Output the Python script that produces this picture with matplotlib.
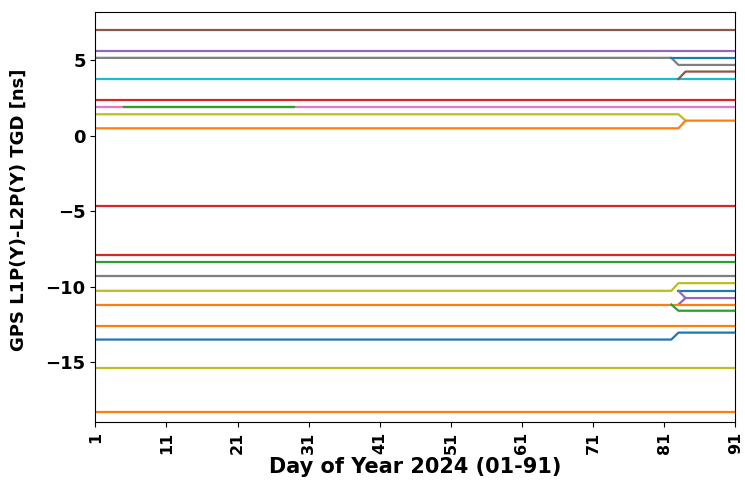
import matplotlib
matplotlib.use("Agg")
import matplotlib.pyplot as plt

# Each series: colour, breakpoint days, values (TGD in ns)
colors = ["tab:brown", "tab:purple", "tab:gray", "tab:blue", "tab:cyan",
          "tab:brown", "tab:red", "tab:pink", "tab:green", "tab:olive",
          "tab:orange", "tab:red", "tab:red", "tab:green", "tab:gray",
          "tab:olive", "tab:blue", "tab:purple", "tab:purple", "tab:orange",
          "tab:green", "tab:orange", "tab:blue", "tab:olive", "tab:orange"]
days = [[1, 91], [1, 91], [1, 82, 83, 91], [82, 91], [1, 91],
        [83, 84, 91], [1, 91], [1, 91], [5, 29], [1, 83, 84],
        [1, 83, 84, 91], [1, 91], [1, 91], [1, 91], [1, 91],
        [1, 82, 83, 91], [83, 91], [83, 84, 91], [83, 84], [1, 91],
        [82, 83, 91], [1, 91], [1, 82, 83, 91], [1, 91], [1, 91]]
values = [[7.01, 7.01], [5.62, 5.62], [5.16, 5.16, 4.69, 4.69], [5.16, 5.16], [3.76, 3.76],
          [3.76, 4.25, 4.25], [2.35, 2.35], [1.90, 1.90], [1.90, 1.90], [1.42, 1.42, 1.0],
          [0.49, 0.49, 1.0, 1.0], [-4.65, -4.65], [-7.92, -7.92], [-8.38, -8.38], [-9.31, -9.31],
          [-10.28, -10.28, -9.77, -9.77], [-10.28, -10.28], [-10.28, -10.76, -10.76], [-11.19, -10.76], [-11.19, -11.19],
          [-11.19, -11.6, -11.6], [-12.6, -12.6], [-13.51, -13.51, -13.05, -13.05], [-15.39, -15.39], [-18.31, -18.31]]
xticks = list(range(1, 92, 10))
yticks = [-15, -10, -5, 0, 5]

fig = plt.figure(figsize=(7.45, 4.8), dpi=100)
ax = fig.add_axes([0.128, 0.120, 0.859, 0.856])
for c, d, v in zip(colors, days, values):
    ax.plot(d, v, color=c, linewidth=1.6)

ax.set_xlim(1, 91)
ax.set_ylim(-19.0, 8.23)
ax.set_xticks(xticks)
ax.set_xticklabels([str(t) for t in xticks], rotation=90, fontweight="bold", fontsize=11.5)
ax.set_yticks(yticks)
ax.set_yticklabels([str(t).replace("-", "\u2212") for t in yticks], fontweight="bold", fontsize=13)
ax.set_xlabel("Day of Year 2024 (01-91)", fontweight="bold", fontsize=15)
ax.set_ylabel("GPS L1P(Y)-L2P(Y) TGD [ns]", fontweight="bold", fontsize=13)
ax.xaxis.set_label_coords(0.5, -0.084)
ax.yaxis.set_label_coords(-0.105, 0.517)
fig.savefig("out.png", dpi=100)
